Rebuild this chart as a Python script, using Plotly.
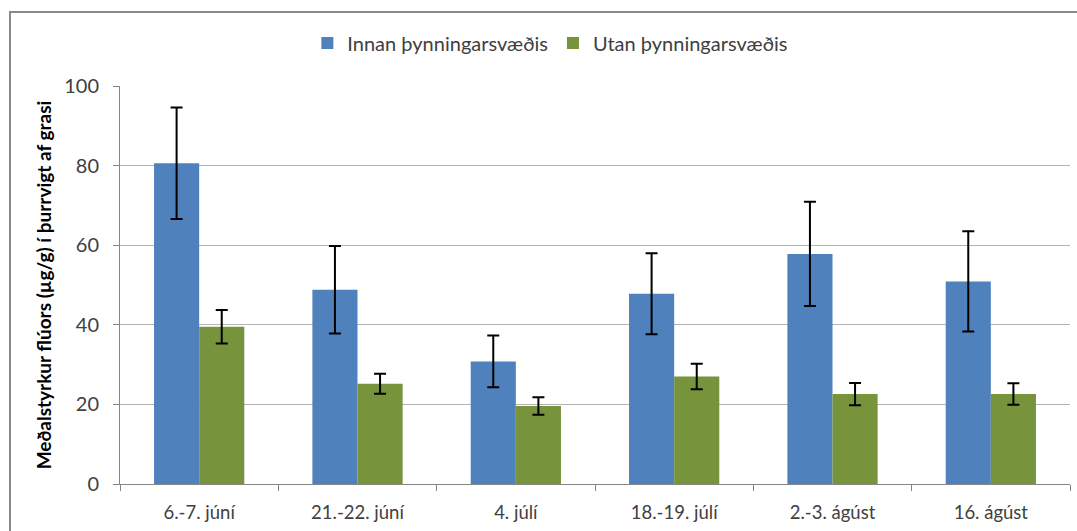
import plotly.graph_objects as go

# Sampling dates
categories = ['6.-7. júní', '21.-22. júní', '4. júlí', '18.-19. júlí', '2.-3. ágúst', '16. ágúst']

# Mean fluoride (µg/g dry weight) and error bar half-widths
innan = [80.6, 48.8, 30.8, 47.8, 57.8, 50.9]
innan_err = [14.0, 11.0, 6.5, 10.2, 13.1, 12.6]
utan = [39.5, 25.2, 19.6, 27.0, 22.6, 22.6]
utan_err = [4.2, 2.5, 2.2, 3.2, 2.8, 2.7]

FONT = 'Lato, "Open Sans", sans-serif'

fig = go.Figure()

fig.add_trace(go.Bar(
    x=categories,
    y=innan,
    name='Innan þynningarsvæðis',
    marker=dict(color='#4F81BD', line=dict(width=0)),
    error_y=dict(type='data', array=innan_err, color='black', thickness=2, width=6),
))

fig.add_trace(go.Bar(
    x=categories,
    y=utan,
    name='Utan þynningarsvæðis',
    marker=dict(color='#77933C', line=dict(width=0)),
    error_y=dict(type='data', array=utan_err, color='black', thickness=2, width=6),
))

# outer chart frame (extends past the right/bottom of the image)
fig.add_shape(
    type='rect', xref='paper', yref='paper',
    x0=-0.1158, x1=1.02, y0=-0.2, y1=1.186,
    line=dict(color='#8a8a8a', width=2), fillcolor='rgba(0,0,0,0)',
    layer='below'
)

fig.update_layout(
    width=1077,
    height=531,
    margin=dict(l=120, r=7, t=86, b=47),
    barmode='group',
    bargap=0.43,
    bargroupgap=0,
    plot_bgcolor='white',
    paper_bgcolor='white',
    font=dict(family=FONT, color='#404040'),
    showlegend=True,
    legend=dict(
        orientation='h',
        x=0.453, xanchor='center',
        y=1.108, yanchor='middle',
        font=dict(size=20, color='#404040'),
        itemwidth=30,
        traceorder='normal',
    ),
    xaxis=dict(
        showline=True,
        linecolor='#868686',
        linewidth=1,
        ticks='outside',
        tickson='boundaries',
        ticklen=6,
        tickcolor='#868686',
        tickfont=dict(size=18.5, color='#404040'),
        ticklabelstandoff=12,
        showgrid=False,
    ),
    yaxis=dict(
        range=[0, 100],
        dtick=20,
        showline=True,
        linecolor='#868686',
        linewidth=1,
        ticks='outside',
        ticklen=6,
        tickcolor='#868686',
        tickfont=dict(size=20, color='#404040'),
        ticklabelstandoff=10,
        gridcolor='#b3b3b3',
        gridwidth=1,
        zeroline=False,
        title=dict(
            text='<b>Meðalstyrkur flúors (µg/g) í þurrvigt af grasi</b>',
            font=dict(size=19, color='black'),
            standoff=7,
        ),
    ),
)

# drop the browser's default body margin so the figure sits at (0, 0)
fig.write_html("out.html", config={'displayModeBar': False},
               post_script="document.body.style.margin='0';")
